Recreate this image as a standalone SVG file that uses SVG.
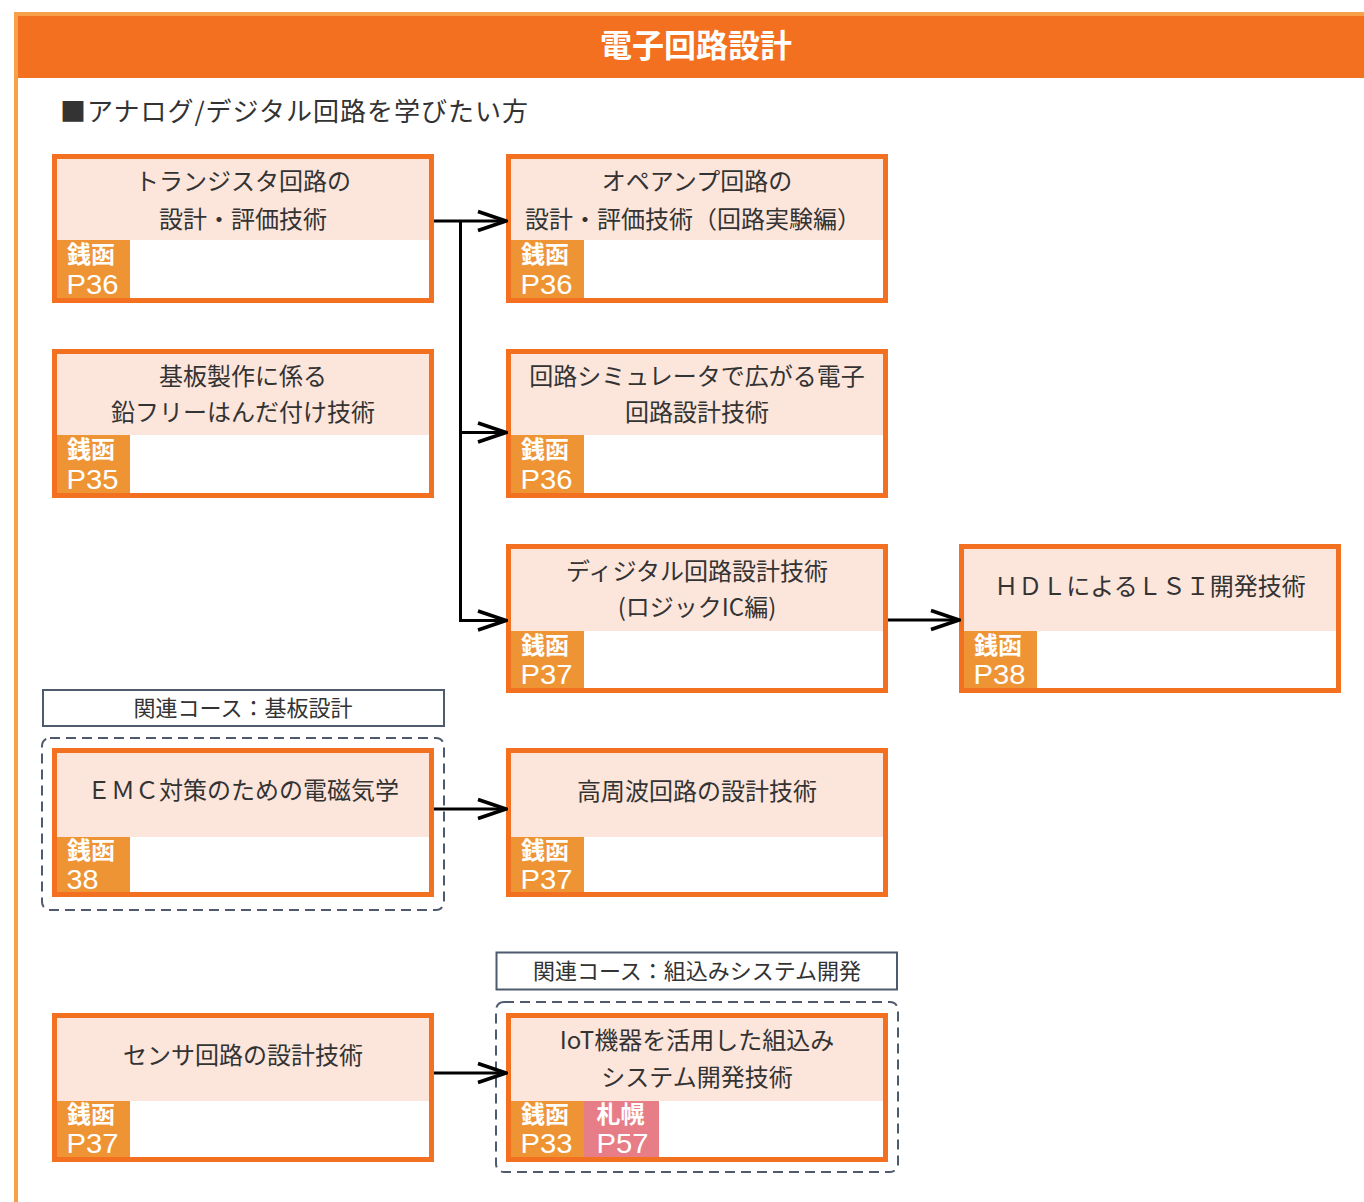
<svg xmlns="http://www.w3.org/2000/svg" width="1364" height="1202" viewBox="0 0 1364 1202">
<style>
.bd{fill:#fff;stroke:#F37021;stroke-width:5}
.pk{fill:#FCE5DB}
.bo{fill:#EE9435}
.bp{fill:#E77D87}
.t{font-family:"Noto Sans CJK JP","Noto Sans",sans-serif;font-size:24px;fill:#333;text-anchor:middle}
.bk{font-family:"Noto Sans CJK JP",sans-serif;font-weight:bold;font-size:24px;fill:#fff}
.bn{font-family:"Liberation Sans",Arial,sans-serif;font-size:28px;fill:#fff}
.grp{fill:none;stroke:#4E5A6D;stroke-width:2;stroke-dasharray:10 6}
.lb{fill:#fff;stroke:#4E5A6D;stroke-width:2}
.lt{font-family:"Noto Sans CJK JP",sans-serif;font-size:22px;fill:#333;text-anchor:middle}
.cn{fill:none;stroke:#000;stroke-width:3}
</style>
<defs>
<marker id="ah" markerUnits="userSpaceOnUse" markerWidth="32" markerHeight="26" viewBox="0 0 32 26" refX="30" refY="13" orient="auto">
<path d="M2,3.5 L30,13 L2,22.5" fill="none" stroke="#000" stroke-width="3.5"/>
</marker>
</defs>
<rect width="1364" height="1202" fill="#fff"/>
<g id="header">
<rect x="14" y="12" width="1350" height="4" fill="#F8A14B"/>
<rect x="14" y="12" width="4" height="1190" fill="#F8A14B"/>
<rect x="18" y="16" width="1346" height="62" fill="#F37021"/>
<text x="696" y="57" font-family="'Noto Sans CJK JP',sans-serif" font-weight="bold" font-size="32" fill="#fff" text-anchor="middle">電子回路設計</text>
</g>
<text id="subtitle" x="60" y="121" font-family="'Noto Sans CJK JP',sans-serif" font-size="26" fill="#333" textLength="468" lengthAdjust="spacing">■アナログ/デジタル回路を学びたい方</text>

<g id="group-kiban">
<rect class="lb" x="43" y="690" width="401" height="36"/>
<text class="lt" x="243" y="716">関連コース：基板設計</text>
<rect class="grp" x="42" y="738" width="402" height="172" rx="8"/>
</g>
<g id="group-kumikomi">
<rect class="lb" x="496.5" y="952.5" width="400.5" height="37"/>
<text class="lt" x="697" y="979">関連コース：組込みシステム開発</text>
<rect class="grp" x="496" y="1002" width="402" height="170" rx="8"/>
</g>

<g id="n1" transform="translate(52,154)">
<rect class="bd" x="2.5" y="2.5" width="377" height="144"/>
<rect class="pk" x="5" y="5" width="372" height="81"/>
<rect class="bo" x="5" y="86" width="73" height="58"/>
<text class="t" x="191" y="36">トランジスタ回路の</text>
<text class="t" x="191" y="74">設計・評価技術</text>
<text class="bk" x="15" y="109">銭函</text>
<text class="bn" x="14.5" y="140" textLength="52" lengthAdjust="spacingAndGlyphs">P36</text>
</g>
<g id="n2" transform="translate(506,154)">
<rect class="bd" x="2.5" y="2.5" width="377" height="144"/>
<rect class="pk" x="5" y="5" width="372" height="81"/>
<rect class="bo" x="5" y="86" width="73" height="58"/>
<text class="t" x="191" y="36">オペアンプ回路の</text>
<text class="t" x="187" y="74">設計・評価技術（回路実験編）</text>
<text class="bk" x="15" y="109">銭函</text>
<text class="bn" x="14.5" y="140" textLength="52" lengthAdjust="spacingAndGlyphs">P36</text>
</g>
<g id="n3" transform="translate(52,349)">
<rect class="bd" x="2.5" y="2.5" width="377" height="144"/>
<rect class="pk" x="5" y="5" width="372" height="81"/>
<rect class="bo" x="5" y="86" width="73" height="58"/>
<text class="t" x="191" y="36">基板製作に係る</text>
<text class="t" x="191" y="72">鉛フリーはんだ付け技術</text>
<text class="bk" x="15" y="109">銭函</text>
<text class="bn" x="14.5" y="140" textLength="52" lengthAdjust="spacingAndGlyphs">P35</text>
</g>
<g id="n4" transform="translate(506,349)">
<rect class="bd" x="2.5" y="2.5" width="377" height="144"/>
<rect class="pk" x="5" y="5" width="372" height="81"/>
<rect class="bo" x="5" y="86" width="73" height="58"/>
<text class="t" x="191" y="36">回路シミュレータで広がる電子</text>
<text class="t" x="191" y="72">回路設計技術</text>
<text class="bk" x="15" y="109">銭函</text>
<text class="bn" x="14.5" y="140" textLength="52" lengthAdjust="spacingAndGlyphs">P36</text>
</g>
<g id="n5" transform="translate(506,544)">
<rect class="bd" x="2.5" y="2.5" width="377" height="144"/>
<rect class="pk" x="5" y="5" width="372" height="82"/>
<rect class="bo" x="5" y="87" width="73" height="57"/>
<text class="t" x="191" y="36">ディジタル回路設計技術</text>
<text class="t" x="191" y="72">(ロジックIC編)</text>
<text class="bk" x="15" y="110">銭函</text>
<text class="bn" x="14.5" y="140" textLength="52" lengthAdjust="spacingAndGlyphs">P37</text>
</g>
<g id="n6" transform="translate(959,544)">
<rect class="bd" x="2.5" y="2.5" width="377" height="144"/>
<rect class="pk" x="5" y="5" width="372" height="82"/>
<rect class="bo" x="5" y="87" width="73" height="57"/>
<text class="t" x="191" y="51">ＨＤＬによるＬＳＩ開発技術</text>
<text class="bk" x="15" y="110">銭函</text>
<text class="bn" x="14.5" y="140" textLength="52" lengthAdjust="spacingAndGlyphs">P38</text>
</g>
<g id="n7" transform="translate(52,748)">
<rect class="bd" x="2.5" y="2.5" width="377" height="144"/>
<rect class="pk" x="5" y="5" width="372" height="84"/>
<rect class="bo" x="5" y="89" width="73" height="55"/>
<text class="t" x="191" y="51">ＥＭＣ対策のための電磁気学</text>
<text class="bk" x="15" y="111">銭函</text>
<text class="bn" x="14.5" y="141" textLength="32" lengthAdjust="spacingAndGlyphs">38</text>
</g>
<g id="n8" transform="translate(506,748)">
<rect class="bd" x="2.5" y="2.5" width="377" height="144"/>
<rect class="pk" x="5" y="5" width="372" height="84"/>
<rect class="bo" x="5" y="89" width="73" height="55"/>
<text class="t" x="191" y="52">高周波回路の設計技術</text>
<text class="bk" x="15" y="111">銭函</text>
<text class="bn" x="14.5" y="141" textLength="52" lengthAdjust="spacingAndGlyphs">P37</text>
</g>
<g id="n9" transform="translate(52,1013)">
<rect class="bd" x="2.5" y="2.5" width="377" height="144"/>
<rect class="pk" x="5" y="5" width="372" height="83"/>
<rect class="bo" x="5" y="88" width="73" height="56"/>
<text class="t" x="191" y="51">センサ回路の設計技術</text>
<text class="bk" x="15" y="110">銭函</text>
<text class="bn" x="14.5" y="140" textLength="52" lengthAdjust="spacingAndGlyphs">P37</text>
</g>
<g id="n10" transform="translate(506,1013)">
<rect class="bd" x="2.5" y="2.5" width="377" height="144"/>
<rect class="pk" x="5" y="5" width="372" height="83"/>
<rect class="bo" x="5" y="88" width="73" height="56"/>
<rect class="bp" x="78" y="88" width="75" height="56"/>
<text class="t" x="191" y="36">IoT機器を活用した組込み</text>
<text class="t" x="191" y="73">システム開発技術</text>
<text class="bk" x="15" y="110">銭函</text>
<text class="bn" x="14.5" y="140" textLength="52" lengthAdjust="spacingAndGlyphs">P33</text>
<text class="bk" x="90.5" y="110">札幌</text>
<text class="bn" x="90.5" y="140" textLength="52" lengthAdjust="spacingAndGlyphs">P57</text>
</g>

<g id="connectors">
<path class="cn" d="M434,221 H506" marker-end="url(#ah)"/>
<path class="cn" d="M460.5,221 V620.5 H506" marker-end="url(#ah)"/>
<path class="cn" d="M460.5,432.5 H506" marker-end="url(#ah)"/>
<path class="cn" d="M888,620 H959" marker-end="url(#ah)"/>
<path class="cn" d="M434,809 H506" marker-end="url(#ah)"/>
<path class="cn" d="M434,1073 H506" marker-end="url(#ah)"/>
</g>
</svg>
